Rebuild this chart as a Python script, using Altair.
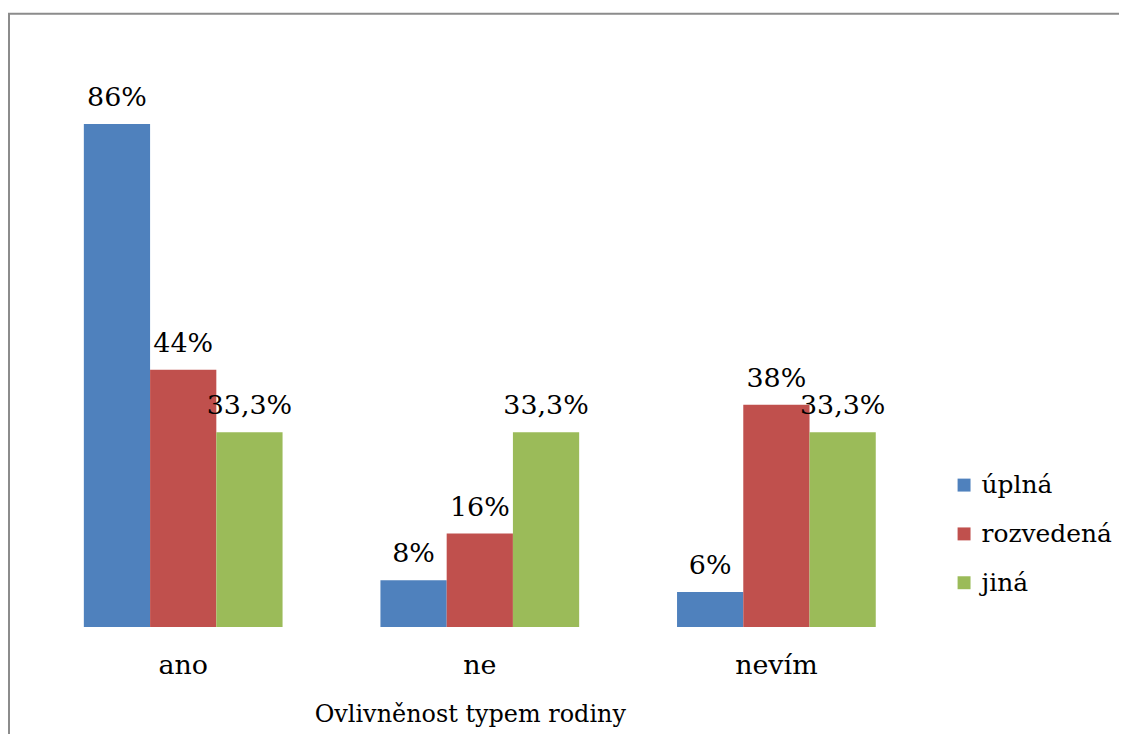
import altair as alt
import pandas as pd

categories = ["ano", "ne", "nevím"]
series = ["úplná", "rozvedená", "jiná"]
uplna = [86, 8, 6]
rozvedena = [44, 16, 38]
jina = [33.3, 33.3, 33.3]
colors = ["#4F81BD", "#C0504D", "#9BBB59"]
axis_title = "Ovlivněnost typem rodiny"

rows = []
for s, vals in zip(series, [uplna, rozvedena, jina]):
    for c, v in zip(categories, vals):
        rows.append({
            "kategorie": c,
            "rodina": s,
            "hodnota": v,
            "popisek": f"{v:g}".replace(".", ",") + "%",
        })
df = pd.DataFrame(rows)
cat_df = pd.DataFrame({"kategorie": categories})
title_df = pd.DataFrame({"t": [axis_title]})
frame_df = pd.DataFrame({"a": [0]})

FONT = "DejaVu Serif"
FS = 27

x_scale = alt.Scale(domain=categories, range=[27, 920], paddingInner=0.33, paddingOuter=0.165)
y_scale = alt.Scale(domain=[0, 100], range=[620, 32.8])

X = alt.X("kategorie:N", scale=x_scale, axis=None, sort=categories)
XO = alt.XOffset("rodina:N", sort=series, scale=alt.Scale(domain=series))
Y = alt.Y("hodnota:Q", scale=y_scale, axis=None)

bars = alt.Chart(df).mark_bar().encode(
    x=X,
    xOffset=XO,
    y=Y,
    color=alt.Color(
        "rodina:N",
        scale=alt.Scale(domain=series, range=colors),
        sort=series,
        legend=alt.Legend(
            orient="none",
            legendX=947,
            legendY=465,
            title=None,
            symbolType="square",
            symbolSize=169,
            symbolStrokeWidth=0,
            labelFont=FONT,
            labelFontSize=25,
            labelColor="black",
            rowPadding=23,
            labelOffset=5,
            padding=0,
        ),
    ),
)

labels = alt.Chart(df).mark_text(
    font=FONT, fontSize=FS, baseline="alphabetic", dy=-18, color="black"
).encode(x=X, xOffset=XO, y=Y, text="popisek:N")

cat_labels = alt.Chart(cat_df).mark_text(
    font=FONT, fontSize=FS, baseline="alphabetic", dy=47, color="black"
).encode(x=X, y=alt.datum(0), text="kategorie:N")

title = alt.Chart(title_df).mark_text(
    font=FONT, fontSize=24, baseline="alphabetic", color="black"
).encode(x=alt.value(464), y=alt.value(715), text="t:N")

frame = alt.Chart(frame_df).mark_rect(
    fillOpacity=0, stroke="#8c8c8c", strokeWidth=2
).encode(x=alt.value(1), x2=alt.value(1400), y=alt.value(4.5), y2=alt.value(1000))

chart = alt.layer(frame, bars, labels, cat_labels, title).properties(
    width=1115,
    height=726,
    padding=0,
    autosize=alt.AutoSizeParams(type="none"),
    background="white",
).configure_view(strokeWidth=0)

chart.save("out.html", embed_options={"renderer": "svg", "actions": False})
